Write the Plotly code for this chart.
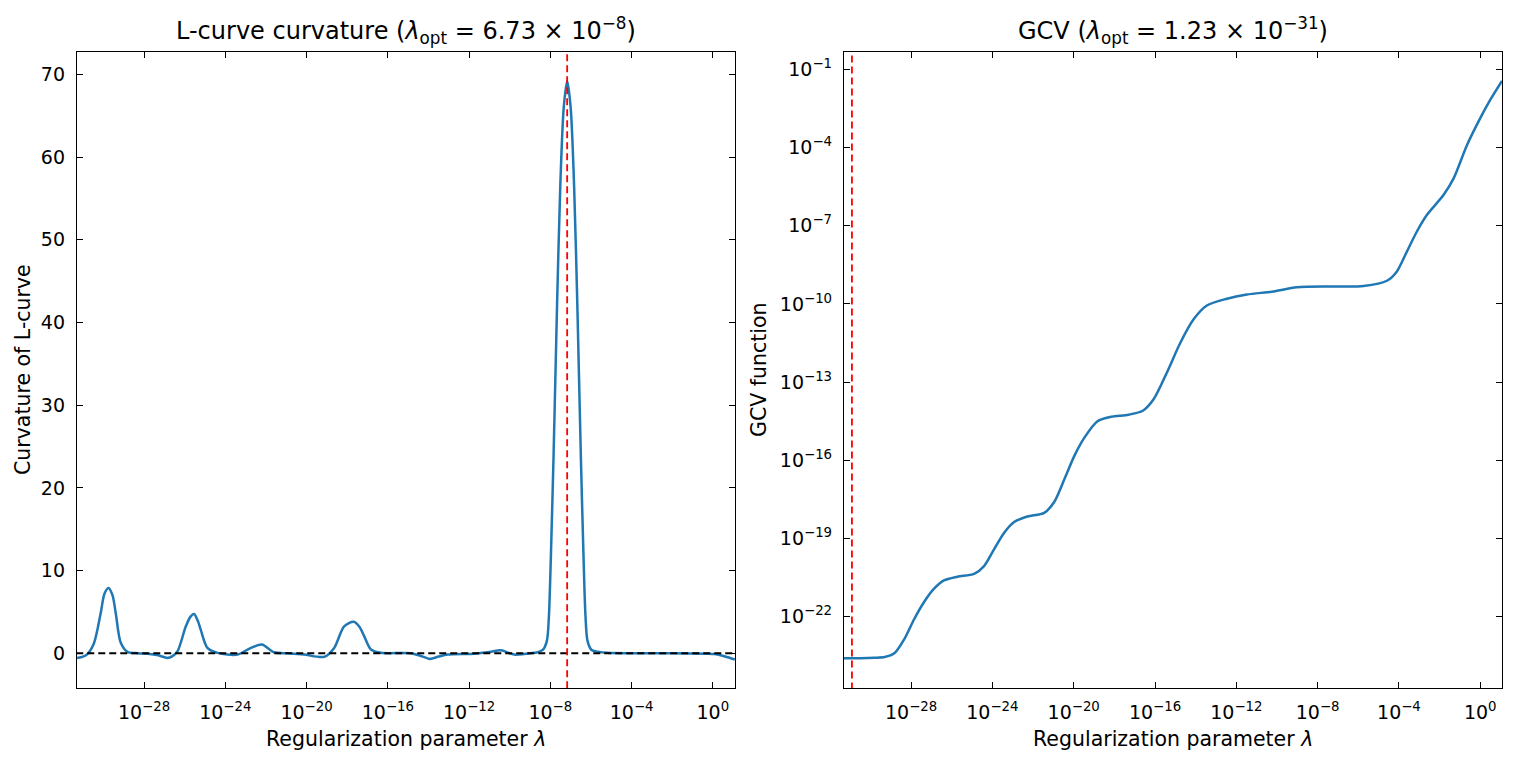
import plotly.graph_objects as go
from plotly.subplots import make_subplots

# ---------------- data ----------------
# L-curve curvature: knots (log10 lambda, curvature)
lc_loglam = [-31.3, -31.0, -30.79, -30.46, -30.13, -29.95, -29.75, -29.55, -29.39, -29.15,
             -28.82, -28.3, -27.83, -27.3, -26.85, -26.6, -26.35, -25.95, -25.72, -25.54,
             -25.35, -25.21, -24.88, -24.38, -23.4, -22.74, -22.2, -21.6, -20.9, -20.12,
             -19.13, -18.64, -18.15, -17.68, -17.4, -17.16, -16.83, -16.34, -14.86, -14.4,
             -13.93, -13.5, -13.05, -11.74, -11.0, -10.43, -10.0, -9.77, -9.3, -8.95,
             -8.67, -8.37, -8.17, -8.07, -7.97, -7.84, -7.67, -7.51, -7.34, -7.17,
             -7.0, -6.83, -6.67, -6.5, -6.37, -6.27, -6.17, -5.97, -5.67, -5.2,
             -4.0, -2.0, -0.3, 0.07, 0.6, 1.08]
lc_curv = [-0.56, -0.4, -0.1, 1.25, 4.9, 7.2, 7.9, 7.0, 4.8, 1.3,
           0.17, 0.0, -0.07, -0.25, -0.56, -0.35, 0.25, 3.2, 4.4, 4.75,
           3.9, 2.86, 0.65, 0.05, -0.16, 0.65, 1.05, 0.12, 0.0, -0.16,
           -0.43, 0.65, 3.26, 3.8, 3.2, 2.05, 0.45, 0.05, 0.0, -0.3,
           -0.68, -0.4, -0.16, -0.05, 0.15, 0.36, 0.0, -0.16, -0.1, 0.0,
           0.1, 0.4, 1.5, 4.5, 12.0, 24.0, 42.0, 56.5, 66.0, 69.2,
           66.0, 56.5, 42.0, 24.0, 12.0, 4.5, 1.5, 0.4, 0.2, 0.05,
           0.0, 0.0, -0.05, -0.1, -0.4, -0.76]

# GCV function: knots (log10 lambda, log10 G)
gcv_loglam = [-31.3, -30.5, -29.8, -29.3, -28.84, -28.34, -27.85, -27.36, -26.87, -26.38,
              -25.72, -24.9, -24.41, -23.92, -23.42, -22.93, -22.28, -21.45, -20.96, -20.47,
              -19.98, -19.49, -18.83, -18.17, -17.3, -16.6, -16.07, -15.42, -14.76, -14.11,
              -13.45, -12.46, -11.48, -10.17, -9.02, -7.22, -5.74, -4.59, -4.1, -3.61,
              -3.11, -2.62, -1.8, -1.31, -0.65, 0.0, 0.49, 1.07]
gcv_logval = [-23.6, -23.6, -23.58, -23.55, -23.42, -22.87, -22.1, -21.44, -20.93, -20.61,
              -20.47, -20.36, -20.06, -19.42, -18.78, -18.37, -18.16, -18.02, -17.6, -16.75,
              -15.85, -15.15, -14.5, -14.33, -14.25, -14.1, -13.66, -12.64, -11.5, -10.6,
              -10.06, -9.8, -9.64, -9.52, -9.36, -9.33, -9.31, -9.11, -8.75, -7.99,
              -7.21, -6.58, -5.81, -5.18, -3.9, -2.87, -2.17, -1.44]

lam_opt_lcurve = 6.73e-8
lam_opt_gcv = 1.23e-31

x_tick_exps = [-28, -24, -20, -16, -12, -8, -4, 0]
y_gcv_tick_exps = [-22, -19, -16, -13, -10, -7, -4, -1]
y_lc_ticks = [0, 10, 20, 30, 40, 50, 60, 70]

# ---------------- figure ----------------
W, H = 1517, 767
BLUE = "#1f77b4"
FONT = "DejaVu Sans"


def sup(e):
    s = str(e).replace("-", "\u2212")
    return f"10<sup>{s}</sup>"


fig = make_subplots(rows=1, cols=2)

fig.add_trace(go.Scatter(x=[10 ** v for v in lc_loglam], y=lc_curv, mode="lines",
                         line=dict(color=BLUE, width=2.5, shape="spline", smoothing=0.8),
                         showlegend=False), row=1, col=1)
fig.add_trace(go.Scatter(x=[1e-40, 1e10], y=[0, 0], mode="lines",
                         line=dict(color="black", width=1.8, dash="7px,4px"),
                         showlegend=False), row=1, col=1)
fig.add_trace(go.Scatter(x=[lam_opt_lcurve, lam_opt_lcurve], y=[-100, 200], mode="lines",
                         line=dict(color="#ff0000", width=1.8, dash="7px,4px"),
                         showlegend=False), row=1, col=1)

fig.add_trace(go.Scatter(x=[10 ** v for v in gcv_loglam], y=[10 ** v for v in gcv_logval],
                         mode="lines",
                         line=dict(color=BLUE, width=2.5, shape="spline", smoothing=0.8),
                         showlegend=False), row=1, col=2)
fig.add_trace(go.Scatter(x=[lam_opt_gcv, lam_opt_gcv], y=[1e-40, 1e10], mode="lines",
                         line=dict(color="#ff0000", width=1.8, dash="7px,4px"),
                         showlegend=False), row=1, col=2)

L0, L1 = 77 / W, 735 / W
R0, R1 = 844 / W, 1502 / W
B0, B1 = (H - 688) / H, (H - 52) / H

axis_common = dict(showline=True, linecolor="black", linewidth=1.3, mirror="ticks",
                   ticks="inside", ticklen=6, tickwidth=1.3, tickcolor="black",
                   showgrid=False, zeroline=False, ticklabelstandoff=7,
                   tickfont=dict(family=FONT, size=19, color="black"))

xt_vals = [10.0 ** e for e in x_tick_exps]
xt_text = [sup(e) for e in x_tick_exps]

fig.update_xaxes(type="log", range=[-31.3, 1.09], domain=[L0, L1],
                 tickvals=xt_vals, ticktext=xt_text, **axis_common, row=1, col=1)
fig.update_xaxes(type="log", range=[-31.3, 1.07], domain=[R0, R1],
                 tickvals=xt_vals, ticktext=xt_text, **axis_common, row=1, col=2)
fig.update_yaxes(range=[-4.2, 72.7], domain=[B0, B1], tickvals=y_lc_ticks,
                 ticktext=[str(v) for v in y_lc_ticks], **axis_common, row=1, col=1)
fig.update_yaxes(type="log", range=[-24.74, -0.33], domain=[B0, B1],
                 tickvals=[10.0 ** e for e in y_gcv_tick_exps],
                 ticktext=[sup(e) for e in y_gcv_tick_exps], **axis_common, row=1, col=2)

ann_font = dict(family=FONT, size=20.5, color="black")
title_font = dict(family=FONT, size=24, color="black")
anns = [
    dict(text="L-curve curvature (<i>λ</i><sub>opt</sub> = 6.73 × 10<sup>\u22128</sup>)",
         x=(77 + 735) / 2 / W, y=1 - 31 / H, font=title_font),
    dict(text="GCV (<i>λ</i><sub>opt</sub> = 1.23 × 10<sup>\u221231</sup>)",
         x=(844 + 1502) / 2 / W, y=1 - 31 / H, font=title_font),
    dict(text="Regularization parameter <i>λ</i>", x=(77 + 735) / 2 / W, y=1 - 739 / H,
         font=ann_font),
    dict(text="Regularization parameter <i>λ</i>", x=(844 + 1502) / 2 / W, y=1 - 739 / H,
         font=ann_font),
    dict(text="Curvature of L-curve", x=23 / W, y=1 - 370 / H, textangle=-90, font=ann_font),
    dict(text="GCV function", x=759 / W, y=1 - 370 / H, textangle=-90, font=ann_font),
]
for a in anns:
    fig.add_annotation(xref="paper", yref="paper", showarrow=False,
                       xanchor="center", yanchor="middle", **a)

fig.update_layout(width=W, height=H, margin=dict(l=0, r=0, t=0, b=0),
                  plot_bgcolor="white", paper_bgcolor="white",
                  font=dict(family=FONT, color="black"))

fig.write_html("out.html")
